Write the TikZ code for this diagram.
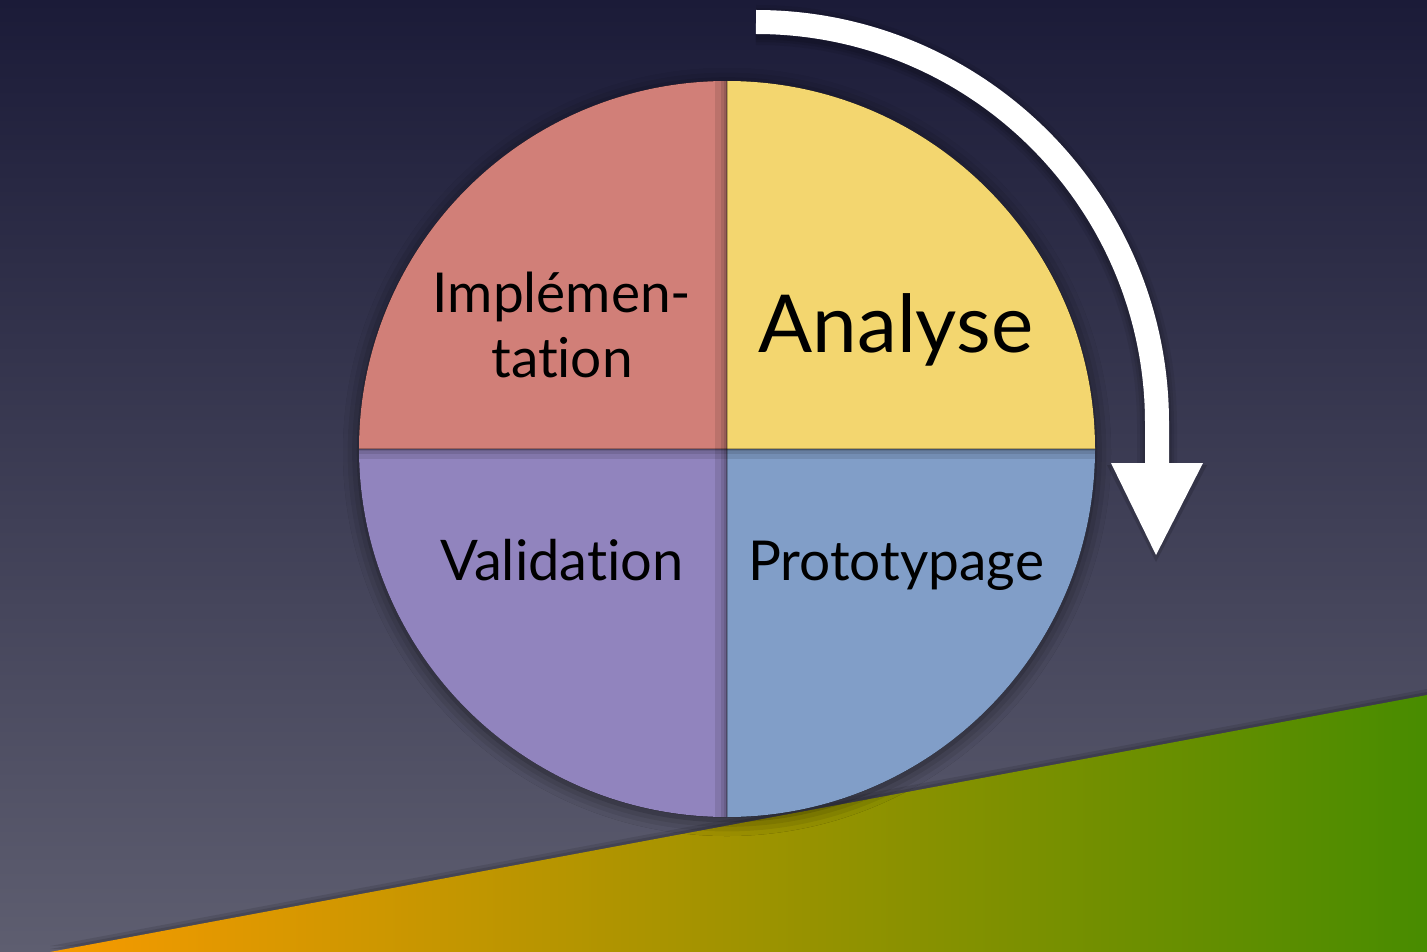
\documentclass[tikz,border=0pt]{standalone}
\usepackage{fontspec}
\setmainfont{Lato}[Ligatures=NoCommon]
\usetikzlibrary{shadows.blur}
\definecolor{bgtop}{HTML}{1B1B38}
\definecolor{bgbot}{HTML}{5E5E70}
\definecolor{qred}{HTML}{D17F78}
\definecolor{qyellow}{HTML}{F3D66F}
\definecolor{qpurple}{HTML}{9184BE}
\definecolor{qblue}{HTML}{819EC8}
\definecolor{orangeL}{HTML}{F79A00}
\definecolor{greenR}{HTML}{488C00}
\tikzset{
  label/.style={text=black, inner sep=0pt, anchor=base},
  arrowline/.style={draw=white, line width=24pt, line cap=butt},
  arrowshadow/.style={draw=black, line cap=butt},
}
\begin{document}
\begin{tikzpicture}[x=1pt,y=-1pt]
\useasboundingbox (0,0) rectangle (1427,952);
% background
\shade[top color=bgtop, bottom color=bgbot] (0,0) rectangle (1427,952);

% bottom gradient wedge
\coordinate (w1) at (50,952);
\coordinate (w2) at (1427,695);
\coordinate (w3) at (1427,952);
\fill[black, opacity=0.10] ($(w1)+(0,-6)$) -- ($(w2)+(0,-6)$) -- (w3) -- cycle;
\fill[black, opacity=0.12] ($(w1)+(0,-3)$) -- ($(w2)+(0,-3)$) -- (w3) -- cycle;
\shade[left color=orangeL, right color=greenR] (w1) -- (w2) -- (w3) -- cycle;

% circle
\coordinate (c) at (727,449);
\fill[black, blur shadow={shadow xshift=0pt, shadow yshift=-3pt, shadow blur radius=16pt, shadow opacity=60}] (c) circle[radius=368];
\begin{scope}
  \clip (c) circle[radius=368];
  \fill[qred] (355,75) rectangle (727,449);
  \fill[qyellow] (727,75) rectangle (1100,449);
  \fill[qpurple] (355,449) rectangle (727,822);
  \fill[qblue] (727,449) rectangle (1100,822);
  % divider shadows
  \fill[black, opacity=0.10] (715,75) rectangle (727,822);
  \fill[black, opacity=0.10] (721,75) rectangle (727,822);
  \fill[black, opacity=0.10] (724,75) rectangle (727,822);
  \fill[black, opacity=0.10] (355,449) rectangle (1100,459);
  \fill[black, opacity=0.10] (355,449) rectangle (1100,454);
  \fill[black, opacity=0.10] (355,449) rectangle (1100,451);
  \draw[black, opacity=0.25, line width=1.5pt] (355,449) -- (1100,449);
  \draw[black, opacity=0.25, line width=1.5pt] (727,75) -- (727,822);
\end{scope}

% labels
\node[label, font=\fontsize{55}{60}\selectfont] (impl) at (562,312) {Implémen-};
\node[label, font=\fontsize{55}{60}\selectfont] (impl2) at (562,377) {tation};
\node[label, font=\fontsize{80}{88}\selectfont] (ana) at (896,352) {Analyse};
\node[label, font=\fontsize{56}{60}\selectfont] (val) at (562,580) {Validation};
\node[label, font=\fontsize{55}{60}\selectfont] (proto) at (896,580) {Prototypage};

% arrow
\coordinate (a0) at (756,22);
\coordinate (a1) at (1157,463);
\coordinate (hl) at (1111,463);
\coordinate (hr) at (1203,463);
\coordinate (ht) at (1156,555);
\foreach \w/\o in {40/0.07, 34/0.08, 29/0.10} {
  \draw[arrowshadow, line width=\w pt, opacity=\o] ($(a0)+(0,3)$) arc[start angle=-90, end angle=0, radius=401] -- ($(a1)+(0,3)$);
}
\fill[black, opacity=0.15] ($(hl)+(-4,2)$) -- ($(hr)+(4,2)$) -- ($(ht)+(0,7)$) -- cycle;
\draw[arrowline] (a0) arc[start angle=-90, end angle=0, radius=401] -- (a1);
\fill[white] (hl) -- (hr) -- (ht) -- cycle;
\end{tikzpicture}
\end{document}
